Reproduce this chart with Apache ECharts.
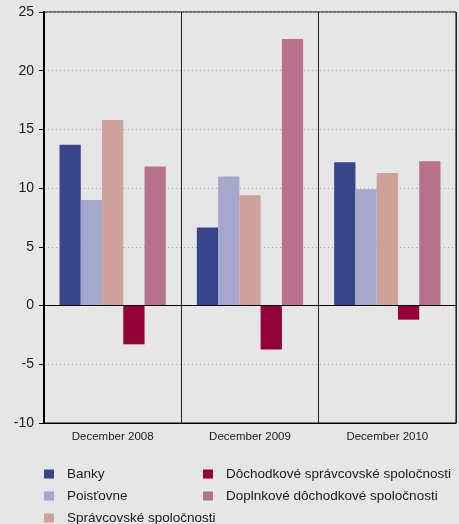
<!DOCTYPE html>
<html>
<head>
<meta charset="utf-8">
<script src="https://cdn.jsdelivr.net/npm/echarts@6/dist/echarts.min.js"></script>
<style>
  html, body { margin: 0; padding: 0; background: #e6e6e6; }
  #chart { width: 459px; height: 524px; }
</style>
</head>
<body>
<div id="chart"></div>
<script>
// Categories (x axis)
const categories = ['December 2008', 'December 2009', 'December 2010'];

// Series names
const seriesNames = [
  'Banky',
  'Poisťovne',
  'Správcovské spoločnosti',
  'Dôchodkové správcovské spoločnosti',
  'Doplnkové dôchodkové spoločnosti'
];

// Values per series, one value per category
const banky = [13.7, 6.65, 12.2];
const poistovne = [9.0, 11.0, 9.9];
const spravcovske = [15.8, 9.4, 11.3];
const dochodkove = [-3.3, -3.75, -1.2];
const doplnkove = [11.85, 22.7, 12.3];

const seriesValues = [banky, poistovne, spravcovske, dochodkove, doplnkove];
const colors = ['#37468a', '#a5a8cc', '#d0a19a', '#93003a', '#b8728d'];

// Legend placement: two columns, three rows
const legendSlots = [
  { left: 44, top: 467 },
  { left: 44, top: 489 },
  { left: 44, top: 511 },
  { left: 203, top: 467 },
  { left: 203, top: 489 }
];

const FONT = 'Liberation Sans';

const chart = echarts.init(document.getElementById('chart'), null, { renderer: 'canvas' });

const series = seriesNames.map((name, i) => {
  const s = {
    name: name,
    type: 'bar',
    data: seriesValues[i],
    barGap: '0%',
    barCategoryGap: '22.6%',
    itemStyle: { color: colors[i] },
    emphasis: { disabled: true }
  };
  if (i === 0) {
    s.markLine = {
      silent: true,
      symbol: ['none', 'none'],
      label: { show: false },
      lineStyle: { color: '#000', type: 'solid', width: 1 },
      data: [{ yAxis: 0 }]
    };
  }
  return s;
});

const legends = seriesNames.map((name, i) => ({
  left: legendSlots[i].left,
  top: legendSlots[i].top,
  padding: 0,
  itemWidth: 10,
  itemHeight: 9,
  icon: 'rect',
  selectedMode: false,
  data: [name],
  textStyle: { fontFamily: FONT, fontSize: 13.5, color: '#1a1a1a', padding: [0, 0, 0, 8] }
}));

chart.setOption({
  animation: false,
  backgroundColor: '#e6e6e6',
  grid: {
    left: 44, right: 3, top: 12, bottom: 101,
    show: true, borderColor: '#000', borderWidth: 1, backgroundColor: 'transparent'
  },
  legend: legends,
  xAxis: {
    type: 'category',
    data: categories,
    axisLine: { show: true, onZero: false, lineStyle: { color: '#000', width: 1 } },
    axisTick: { show: false },
    splitLine: { show: true, lineStyle: { color: '#222', width: 1 } },
    axisLabel: { fontFamily: FONT, fontSize: 11.5, color: '#1a1a1a', margin: 8 }
  },
  yAxis: {
    type: 'value',
    min: -10, max: 25, interval: 5,
    axisLine: { show: true, lineStyle: { color: '#000', width: 2 } },
    axisTick: { show: true, length: 5, lineStyle: { color: '#000' } },
    splitLine: { show: true, lineStyle: { color: '#a8a8a8', type: [1, 3], width: 1 } },
    axisLabel: { fontFamily: FONT, fontSize: 14, color: '#1a1a1a', margin: 10 }
  },
  series: series
});
</script>
</body>
</html>
